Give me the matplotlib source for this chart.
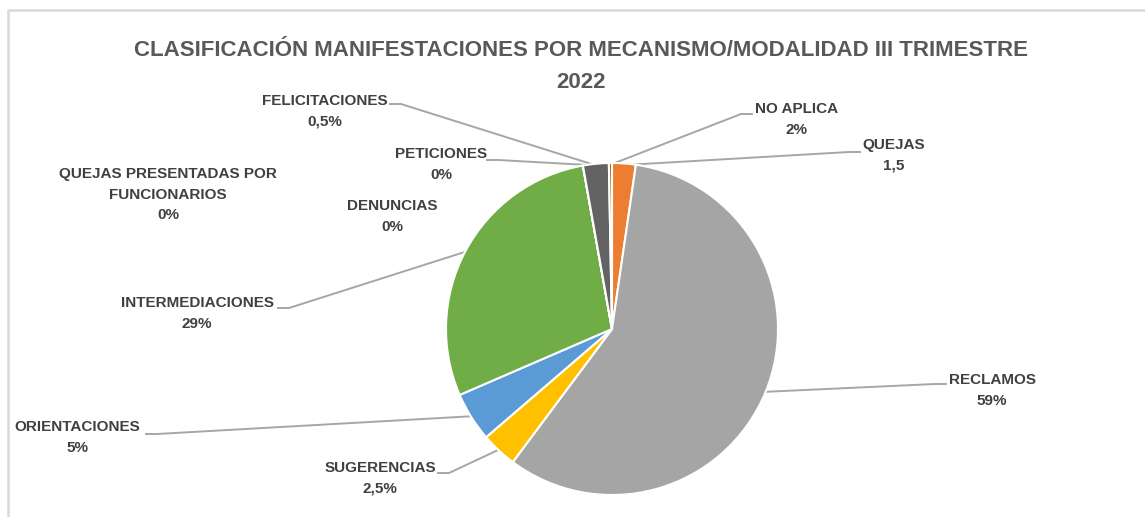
import matplotlib.pyplot as plt
import numpy as np

# datos del grafico (porcentaje de la torta, en orden horario desde las 12)
categories = ['QUEJAS', 'RECLAMOS', 'SUGERENCIAS', 'ORIENTACIONES', 'INTERMEDIACIONES',
              'DENUNCIAS', 'QUEJAS PRESENTADAS POR\nFUNCIONARIOS', 'PETICIONES',
              'FELICITACIONES', 'NO APLICA']
values = [2.3, 57.9, 3.5, 4.8, 28.7, 0, 0, 0, 2.5, 0.3]
value_labels = ['1,5', '59%', '2,5%', '5%', '29%', '0%', '0%', '0%', '0,5%', '2%']
colors = ['#ED7D31', '#A5A5A5', '#FFC000', '#5B9BD5', '#70AD47',
          '#264478', '#9E480E', '#636363', '#636363', '#997300']

W, H = 1145, 517
FONT = ['Liberation Sans', 'DejaVu Sans']

# posicion de cada etiqueta (px imagen): centro del texto, inicio de la guia, wedge al que apunta
label_pos = [(894, 146), (992, 381), (380, 469), (77, 428), (197, 304),
             (392, 207), (168, 175), (441, 155), (325, 102), (797, 110)]
leader_start = [(860, 152), (946, 384), (438, 473), (146, 434), (278, 308),
                None, None, (487, 160), (390, 104), (752, 114)]
leader_wedge = [0, 1, 2, 3, 4, None, None, 8, 8, 9]


def py(y):
    return H - y


fig = plt.figure(figsize=(W / 100, H / 100), dpi=100)
ax = fig.add_axes([0, 0, 1, 1])

cx, cy, r = 612, py(329), 166
wedges, _ = ax.pie(values, colors=colors, startangle=90, counterclock=False,
                   center=(cx, cy), radius=r,
                   wedgeprops=dict(edgecolor='white', linewidth=1.5))
ax.set_xlim(0, W)
ax.set_ylim(0, H)
ax.set_aspect('equal')
ax.axis('off')

# marco del area del grafico
ax.plot([8, 8, W], [0, py(10), py(10)], color='#d9d9d9', lw=1.8, solid_capstyle='butt')

ax.text(581, py(50), 'CLASIFICACIÓN MANIFESTACIONES POR MECANISMO/MODALIDAD III TRIMESTRE',
        ha='center', va='center', fontsize=16, fontweight='bold', color='#595959', family=FONT)
ax.text(581, py(82), '2022', ha='center', va='center', fontsize=16, fontweight='bold',
        color='#595959', family=FONT)

for i, name in enumerate(categories):
    tx, ty = label_pos[i]
    ax.text(tx, py(ty) + 8, name + '\n' + value_labels[i], ha='center', va='top',
            fontsize=11, fontweight='bold', color='#404040', family=FONT,
            linespacing=1.6, multialignment='center')
    if leader_start[i] is None:
        continue
    w = wedges[leader_wedge[i]]
    ang = np.deg2rad((w.theta1 + w.theta2) / 2)
    ex, ey = cx + r * 0.99 * np.cos(ang), cy + r * 0.99 * np.sin(ang)
    sx, sy = leader_start[i]
    elbow = sx - 11 if sx > ex else sx + 11
    ax.plot([sx, elbow, ex], [py(sy), py(sy), ey], color='#a6a6a6', lw=1.4, zorder=0.5)

fig.savefig('out.png', dpi=100)
